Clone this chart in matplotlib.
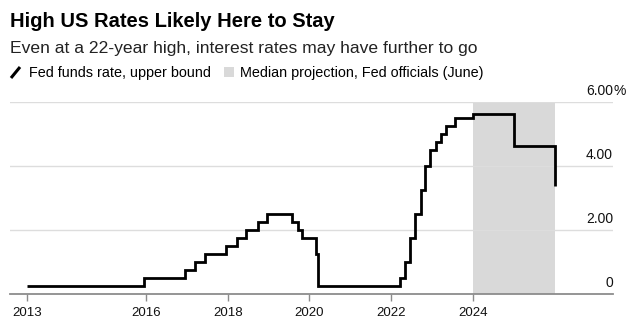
import pandas as pd
import matplotlib.pyplot as plt
from matplotlib.lines import Line2D
from matplotlib.patches import Rectangle
import matplotlib.transforms as mtransforms

plt.rcParams['font.family'] = ['Liberation Sans', 'DejaVu Sans']

# Fed funds target, upper bound (%), by effective date; last three are the June median projections
dates = ["2013-02-01", "2015-12-17", "2016-12-15", "2017-03-16", "2017-06-15",
         "2017-12-14", "2018-03-22", "2018-06-14", "2018-09-27", "2018-12-20",
         "2019-08-01", "2019-09-19", "2019-10-31", "2020-03-04", "2020-03-16",
         "2022-03-17", "2022-05-05", "2022-06-16", "2022-07-28", "2022-09-22",
         "2022-11-03", "2022-12-15", "2023-02-02", "2023-03-23", "2023-05-04",
         "2023-07-27", "2024-01-01", "2025-01-01", "2026-01-01"]
upper_bound = [0.25, 0.50, 0.75, 1.00, 1.25,
               1.50, 1.75, 2.00, 2.25, 2.50,
               2.25, 2.00, 1.75, 1.25, 0.25,
               0.50, 1.00, 1.75, 2.50, 3.25,
               4.00, 4.50, 4.75, 5.00, 5.25,
               5.50, 5.625, 4.625, 3.375]

projection_start = "2024-01-01"
projection_end = "2026-01-01"

year_ticks = ["2013-02-01", "2016-01-01", "2018-01-01", "2020-01-01", "2022-01-01", "2024-01-01"]
year_labels = ["2013", "2016", "2018", "2020", "2022", "2024"]

y_ticks = [0, 2, 4, 6]
y_labels = ["0", "2.00", "4.00", "6.00"]

W, H = 631, 328
fig = plt.figure(figsize=(W / 100, H / 100), dpi=100)


def fx(px):
    return px / W


def fy(py):
    return 1 - py / H


ax = fig.add_axes([fx(10), fy(294.3), fx(613) - fx(10), fy(102.3) - fy(294.3)])

x = pd.to_datetime(dates)
ax.axvspan(pd.Timestamp(projection_start), pd.Timestamp(projection_end),
           color="#d9d9d9", lw=0, zorder=0)
ax.plot(x, upper_bound, drawstyle="steps-post", color="black", lw=2.0,
        solid_joinstyle="miter", solid_capstyle="butt", zorder=3)

ax.set_xlim(pd.Timestamp("2012-09-05"), pd.Timestamp("2027-06-05"))
ax.set_ylim(0, 6)

for s in ["top", "right", "left"]:
    ax.spines[s].set_visible(False)
ax.spines["bottom"].set_color("#8c8c8c")
ax.spines["bottom"].set_linewidth(1.3)

ax.set_yticks([])
for v in y_ticks[1:]:
    ax.axhline(v, color="#dddddd", lw=1.0, zorder=1)

ax.set_xticks(pd.to_datetime(year_ticks))
ax.set_xticklabels(year_labels, fontsize=9.5, color="#111111")
ax.tick_params(axis="x", length=5, width=1.0, color="#8c8c8c", pad=4)

# value labels sit above their gridlines at the right edge
lift = mtransforms.offset_copy(ax.get_yaxis_transform(), fig=fig, y=7, units="dots")
for v, lab in zip(y_ticks, y_labels):
    ax.text(1.0, v, lab, transform=lift, ha="right", va="baseline",
            fontsize=10, color="#111111")
ax.text(1.0, 6, "%", transform=lift, ha="left", va="baseline",
        fontsize=10, color="#111111")

# header
fig.text(fx(10), fy(27.3), "High US Rates Likely Here to Stay",
         fontsize=14.5, fontweight="bold", va="baseline", ha="left")
fig.text(fx(10), fy(52.7), "Even at a 22-year high, interest rates may have further to go",
         fontsize=12.6, va="baseline", ha="left", color="#222222")

# legend
fig.add_artist(Line2D([fx(11), fx(20)], [fy(78), fy(67)], color="black", lw=2.2,
                      solid_capstyle="butt"))
fig.text(fx(29), fy(76.7), "Fed funds rate, upper bound", fontsize=10.4,
         va="baseline", ha="left")
fig.add_artist(Rectangle((fx(224), fy(77)), fx(10), fy(67) - fy(77),
                         transform=fig.transFigure, color="#d9d9d9", lw=0))
fig.text(fx(240), fy(76.7), "Median projection, Fed officials (June)", fontsize=10.35,
         va="baseline", ha="left")

fig.savefig("out.png", dpi=100)
